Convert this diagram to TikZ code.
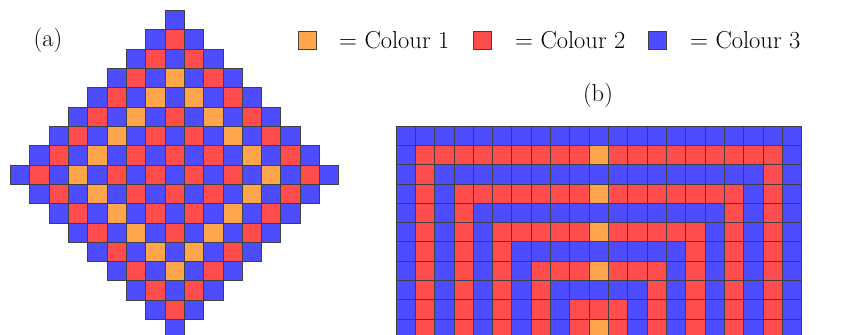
\documentclass[tikz,border=0pt]{standalone}
\definecolor{cone}{HTML}{FFA64D}
\definecolor{ctwo}{HTML}{FF4D4D}
\definecolor{cthree}{HTML}{4D4DFF}
\tikzset{
  cell/.style={draw=black!75,line width=0.9pt},
  lbl/.style={font=\fontsize{24.5}{29}\selectfont,inner sep=0pt}
}
\begin{document}
\begin{tikzpicture}[x=1pt,y=-1pt]
\useasboundingbox (0,0) rectangle (855,335);
\def\cs{19.32}
% (a) diamond
\foreach \i in {-8,...,8}{
  \foreach \j in {-8,...,8}{
    \pgfmathtruncatemacro\dd{abs(\i)+abs(\j)}
    \ifnum\dd<9
      \ifodd\dd
        \ifnum\dd=5 \def\cc{cone}\else\def\cc{ctwo}\fi
      \else
        \def\cc{cthree}
      \fi
      \filldraw[cell,fill=\cc] ({165+\j*\cs},{165+\i*\cs}) rectangle ++(\cs,\cs);
    \fi
  }
}
% (b) grid
\foreach \r in {0,...,10}{
  \foreach \c in {0,...,20}{
    \pgfmathtruncatemacro\mm{min(\c,20-\c,\r)}
    \ifodd\mm \def\cc{ctwo}\else\def\cc{cthree}\fi
    \ifnum\c=10
      \ifnum\r<8 \ifodd\r \def\cc{cone}\fi\fi
      \ifnum\r=10 \def\cc{cone}\fi
    \fi
    \filldraw[cell,fill=\cc] ({396+\c*\cs},{126+\r*\cs}) rectangle ++(\cs,\cs);
  }
}
% labels
\node[lbl,anchor=base] (la) at (48,46.5) {(a)};
\node[lbl,anchor=base] (lb) at (598,101) {(b)};
% legend
\filldraw[cell,fill=cone] (298,31) rectangle ++(18,18);
\node[lbl,anchor=base west] (l1) at (339,48) {$=$ Colour 1};
\filldraw[cell,fill=ctwo] (473,31) rectangle ++(18,18);
\node[lbl,anchor=base west] (l2) at (515,48) {$=$ Colour 2};
\filldraw[cell,fill=cthree] (648,31) rectangle ++(18,18);
\node[lbl,anchor=base west] (l3) at (690,48) {$=$ Colour 3};
\end{tikzpicture}
\end{document}
